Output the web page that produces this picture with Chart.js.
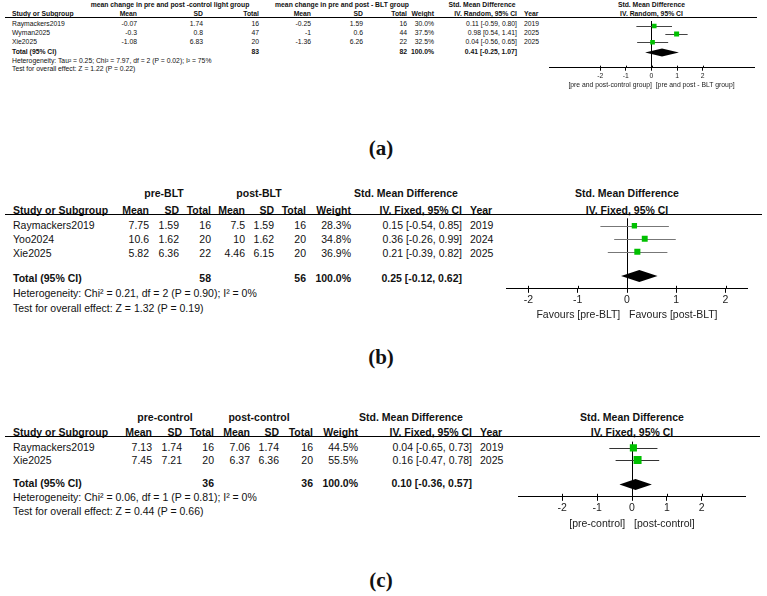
<!DOCTYPE html>
<html lang="en">
<head>
<meta charset="UTF-8">
<title>Forest plots</title>
<script src="https://cdn.jsdelivr.net/npm/chart.js"></script>
<style>
  body { margin: 0; background: #fff; }
  #page { position: relative; width: 767px; height: 596px; overflow: hidden; font-family: "Liberation Sans", Arial, sans-serif; color: #111; }
  .t { position: absolute; white-space: pre; line-height: 1; }
  .b { font-weight: bold; }
  .rule { position: absolute; height: 1px; background: #000; }
  canvas { position: absolute; }
  .lab { position: absolute; font-family: "Liberation Serif", "Times New Roman", serif; font-weight: bold; font-size: 21px; line-height: 1; transform: translate(-50%, -50%); }
</style>
</head>
<body>
<div id="page"></div>
<script>
// (a) change scores, control light vs BLT, random effects
const studiesA = ['Raymackers2019', 'Wyman2025', 'Xie2025'];
const ctrlMeanA = [-0.07, -0.3, -1.08];
const ctrlSdA = [1.74, 0.8, 6.83];
const ctrlNA = [16, 47, 20];
const bltMeanA = [-0.25, -1, -1.36];
const bltSdA = [1.59, 0.6, 6.26];
const bltNA = [16, 44, 22];
const weightA = [30.0, 37.5, 32.5];
const smdA = [0.11, 0.98, 0.04];
const lowA = [-0.59, 0.54, -0.56];
const highA = [0.80, 1.41, 0.65];
const yearA = [2019, 2025, 2025];
const pooledA = [0.41, -0.25, 1.07];

// (b) pre vs post BLT
const studiesB = ['Raymackers2019', 'Yoo2024', 'Xie2025'];
const preMeanB = [7.75, 10.6, 5.82];
const preSdB = [1.59, 1.62, 6.36];
const preNB = [16, 20, 22];
const postMeanB = [7.5, 10, 4.46];
const postSdB = [1.59, 1.62, 6.15];
const postNB = [16, 20, 20];
const weightB = [28.3, 34.8, 36.9];
const smdB = [0.15, 0.36, 0.21];
const lowB = [-0.54, -0.26, -0.39];
const highB = [0.85, 0.99, 0.82];
const yearB = [2019, 2024, 2025];
const pooledB = [0.25, -0.12, 0.62];

// (c) pre vs post control
const studiesC = ['Raymackers2019', 'Xie2025'];
const preMeanC = [7.13, 7.45];
const preSdC = [1.74, 7.21];
const preNC = [16, 20];
const postMeanC = [7.06, 6.37];
const postSdC = [1.74, 6.36];
const postNC = [16, 20];
const weightC = [44.5, 55.5];
const smdC = [0.04, 0.16];
const lowC = [-0.65, -0.47];
const highC = [0.73, 0.78];
const yearC = [2019, 2025];
const pooledC = [0.10, -0.36, 0.57];

const axisTicks = [-2, -1, 0, 1, 2];

const page = document.getElementById('page');
const FONT = '"Liberation Sans", Arial, sans-serif';

function txt(str, x, y, size, opts) {
  opts = opts || {};
  const s = document.createElement('span');
  s.className = 't' + (opts.bold ? ' b' : '');
  s.textContent = str;
  s.style.left = x + 'px';
  s.style.top = y + 'px';
  s.style.fontSize = size + 'px';
  const dx = opts.align === 'right' ? '-100%' : opts.align === 'center' ? '-50%' : '0';
  s.style.transform = 'translate(' + dx + ',-50%)';
  page.appendChild(s);
}

const sum = a => a.reduce((s, v) => s + v, 0);
const ci = (e, l, h) => e.toFixed(2) + ' [' + l.toFixed(2) + ', ' + h.toFixed(2) + ']';

function table(p) {
  const f = p.fs, c = p.cols;
  const mid = p.plotX + p.plotW / 2;
  p.groups.forEach(g => txt(g[0], g[1], p.head1Y, f, { bold: true, align: 'center' }));
  txt('Std. Mean Difference', mid, p.head1Y, f, { bold: true, align: 'center' });
  txt('Study or Subgroup', c.study, p.head2Y, f, { bold: true });
  [['Mean', c.m1], ['SD', c.s1], ['Total', c.n1], ['Mean', c.m2], ['SD', c.s2], ['Total', c.n2],
   ['Weight', c.w], [p.ciHead, c.ci]].forEach(h => txt(h[0], h[1], p.head2Y, f, { bold: true, align: 'right' }));
  txt('Year', c.yr, p.head2Y, f, { bold: true });
  txt(p.ciHead, mid, p.head2Y, f, { bold: true, align: 'center' });

  const r = document.createElement('div');
  r.className = 'rule';
  r.style.left = p.ruleX0 + 'px';
  r.style.width = (p.ruleX1 - p.ruleX0) + 'px';
  r.style.top = p.ruleY + 'px';
  page.appendChild(r);

  p.study.forEach((name, i) => {
    const y = p.rowY + i * p.rowStep;
    txt(name, c.study, y, f);
    txt(String(p.m1[i]), c.m1, y, f, { align: 'right' });
    txt(String(p.s1[i]), c.s1, y, f, { align: 'right' });
    txt(String(p.n1[i]), c.n1, y, f, { align: 'right' });
    txt(String(p.m2[i]), c.m2, y, f, { align: 'right' });
    txt(String(p.s2[i]), c.s2, y, f, { align: 'right' });
    txt(String(p.n2[i]), c.n2, y, f, { align: 'right' });
    txt(p.weight[i].toFixed(1) + '%', c.w, y, f, { align: 'right' });
    txt(ci(p.smd[i], p.lo[i], p.hi[i]), c.ci, y, f, { align: 'right' });
    txt(String(p.year[i]), c.yr, y, f);
  });
  txt('Total (95% CI)', c.study, p.totalY, f, { bold: true });
  txt(String(sum(p.n1)), c.n1, p.totalY, f, { bold: true, align: 'right' });
  txt(String(sum(p.n2)), c.n2, p.totalY, f, { bold: true, align: 'right' });
  txt('100.0%', c.w, p.totalY, f, { bold: true, align: 'right' });
  txt(ci(p.pooled[0], p.pooled[1], p.pooled[2]), c.ci, p.totalY, f, { bold: true, align: 'right' });
  txt(p.het, c.study, p.hetY, f);
  txt(p.test, c.study, p.testY, f);

  const lab = document.createElement('div');
  lab.className = 'lab';
  lab.textContent = p.label[0];
  lab.style.left = '381px';
  lab.style.top = p.label[1] + 'px';
  page.appendChild(lab);
}

const forestMarks = {
  id: 'forestMarks',
  beforeDatasetsDraw(chart) {
    const p = chart.options.plugins.forestMarks;
    const { ctx } = chart;
    const xs = chart.scales.x, ys = chart.scales.y;
    ctx.save();
    ctx.strokeStyle = p.ciColor;
    ctx.lineWidth = 1;
    p.smd.forEach((v, i) => {
      const y = Math.round(ys.getPixelForValue(i + p.markOff)) + 0.5;
      ctx.beginPath();
      ctx.moveTo(xs.getPixelForValue(p.lo[i]), y);
      ctx.lineTo(xs.getPixelForValue(p.hi[i]), y);
      ctx.stroke();
    });
    ctx.restore();
  },
  afterDraw(chart) {
    const p = chart.options.plugins.forestMarks;
    const { ctx, chartArea } = chart;
    const xs = chart.scales.x, ys = chart.scales.y;
    ctx.save();
    // pooled diamond
    const yd = ys.getPixelForValue(p.totalRow);
    ctx.fillStyle = '#000';
    ctx.beginPath();
    ctx.moveTo(xs.getPixelForValue(p.pooled[1]), yd);
    ctx.lineTo(xs.getPixelForValue(p.pooled[0]), yd - p.diamondH);
    ctx.lineTo(xs.getPixelForValue(p.pooled[2]), yd);
    ctx.lineTo(xs.getPixelForValue(p.pooled[0]), yd + p.diamondH);
    ctx.closePath();
    ctx.fill();
    // tick marks crossing the axis
    ctx.strokeStyle = '#000';
    ctx.lineWidth = 1;
    xs.ticks.forEach(t => {
      const x = Math.round(xs.getPixelForValue(t.value)) + 0.5;
      ctx.beginPath();
      ctx.moveTo(x, chartArea.bottom - p.tickLen + 1);
      ctx.lineTo(x, chartArea.bottom);
      ctx.stroke();
    });
    ctx.restore();
  }
};

function forest(p) {
  const lh = p.fs * 1.2;
  const axisH = p.tickLen + 1 + lh + p.titlePad + lh;
  const cv = document.createElement('canvas');
  cv.width = p.plotW;
  cv.height = Math.round(p.axisY - p.ruleY + axisH);
  cv.style.left = p.plotX + 'px';
  cv.style.top = p.ruleY + 'px';
  page.appendChild(cv);

  const yTop = (p.ruleY - p.rowY) / p.rowStep;
  const yBot = yTop + (cv.height - axisH) / p.rowStep;
  const totalRow = (p.totalY + p.diamondOff - p.rowY) / p.rowStep;
  const markOff = p.markPx / p.rowStep;

  new Chart(cv, {
    type: 'scatter',
    data: {
      datasets: [{
        data: p.smd.map((v, i) => ({ x: v, y: i + markOff })),
        pointStyle: 'rect',
        pointRadius: p.weight.map(w => p.sq * Math.sqrt(w) / Math.SQRT2),
        backgroundColor: '#00c000',
        borderWidth: 0
      }]
    },
    options: {
      responsive: false,
      animation: false,
      events: [],
      layout: { padding: 0 },
      plugins: {
        legend: { display: false },
        tooltip: { enabled: false },
        forestMarks: {
          smd: p.smd, lo: p.lo, hi: p.hi, pooled: p.pooled, ciColor: p.ciColor,
          markOff: markOff, totalRow: totalRow, diamondH: p.diamondH, tickLen: p.tickLen
        }
      },
      scales: {
        x: {
          type: 'linear',
          min: -p.xr,
          max: p.xr,
          afterBuildTicks: ax => { ax.ticks = axisTicks.map(v => ({ value: v })); },
          grid: {
            color: c => (c.tick && c.tick.value === 0) ? '#000' : 'rgba(0,0,0,0)',
            tickColor: '#000',
            tickLength: p.tickLen,
            lineWidth: 1
          },
          border: { color: '#000', width: 1 },
          ticks: { font: { size: p.fs, family: FONT }, color: '#222', padding: 1, maxRotation: 0, autoSkip: false },
          title: {
            display: true,
            text: p.favL + p.gap + p.favR,
            font: { size: p.fs, family: FONT },
            color: '#222',
            padding: { top: p.titlePad, bottom: 0 }
          }
        },
        y: { type: 'linear', reverse: true, min: yTop, max: yBot, display: false }
      }
    },
    plugins: [forestMarks]
  });
}

const panels = [
  {
    study: studiesA, m1: ctrlMeanA, s1: ctrlSdA, n1: ctrlNA, m2: bltMeanA, s2: bltSdA, n2: bltNA,
    weight: weightA, smd: smdA, lo: lowA, hi: highA, year: yearA, pooled: pooledA,
    het: 'Heterogeneity: Tau\u00b2 = 0.25; Chi\u00b2 = 7.97, df = 2 (P = 0.02); I\u00b2 = 75%',
    test: 'Test for overall effect: Z = 1.22 (P = 0.22)',
    groups: [['mean change in pre and post -control light group', 170], ['mean change in pre and post - BLT group', 342], ['Std. Mean Difference', 482]],
    ciHead: 'IV. Random, 95% CI',
    favL: '[pre and post-control group]', favR: '[pre and post - BLT group]', gap: '  ',
    label: ['(a)', 148],
    fs: 6.8, head1Y: 5, head2Y: 14, ruleY: 17, ruleX0: 5, ruleX1: 757,
    rowY: 23.5, rowStep: 9, totalY: 52, hetY: 60.5, testY: 68.5,
    cols: { study: 12, m1: 137, s1: 203, n1: 259, m2: 311, s2: 363, n2: 407, w: 434, ci: 517, yr: 524 },
    plotX: 545, plotW: 213, xr: 4, axisY: 69, tickLen: 3, titlePad: 0,
    sq: 0.82, diamondH: 4, diamondOff: 0, markPx: -1, ciColor: '#444'
  },
  {
    study: studiesB, m1: preMeanB, s1: preSdB, n1: preNB, m2: postMeanB, s2: postSdB, n2: postNB,
    weight: weightB, smd: smdB, lo: lowB, hi: highB, year: yearB, pooled: pooledB,
    het: 'Heterogeneity: Chi\u00b2 = 0.21, df = 2 (P = 0.90); I\u00b2 = 0%',
    test: 'Test for overall effect: Z = 1.32 (P = 0.19)',
    groups: [['pre-BLT', 164], ['post-BLT', 259], ['Std. Mean Difference', 406]],
    ciHead: 'IV. Fixed, 95% CI',
    favL: 'Favours [pre-BLT]', favR: 'Favours [post-BLT]', gap: '   ',
    label: ['(b)', 357],
    fs: 10.5, head1Y: 193, head2Y: 209.5, ruleY: 214, ruleX0: 5, ruleX1: 762,
    rowY: 225, rowStep: 14, totalY: 278, hetY: 293, testY: 308,
    cols: { study: 13, m1: 149, s1: 179, n1: 211, m2: 245, s2: 274, n2: 306, w: 351, ci: 462, yr: 470 },
    plotX: 502, plotW: 250, xr: 2.45, axisY: 289.5, tickLen: 4, titlePad: 1,
    sq: 1.0, diamondH: 6, diamondOff: -2, markPx: -3, ciColor: '#777'
  },
  {
    study: studiesC, m1: preMeanC, s1: preSdC, n1: preNC, m2: postMeanC, s2: postSdC, n2: postNC,
    weight: weightC, smd: smdC, lo: lowC, hi: highC, year: yearC, pooled: pooledC,
    het: 'Heterogeneity: Chi\u00b2 = 0.06, df = 1 (P = 0.81); I\u00b2 = 0%',
    test: 'Test for overall effect: Z = 0.44 (P = 0.66)',
    groups: [['pre-control', 165], ['post-control', 259], ['Std. Mean Difference', 411]],
    ciHead: 'IV. Fixed, 95% CI',
    favL: '[pre-control]', favR: '[post-control]', gap: '   ',
    label: ['(c)', 580],
    fs: 10.5, head1Y: 417, head2Y: 431.5, ruleY: 436, ruleX0: 5, ruleX1: 760,
    rowY: 446.5, rowStep: 13.5, totalY: 483, hetY: 497, testY: 511,
    cols: { study: 13, m1: 152, s1: 182, n1: 214, m2: 250, s2: 279, n2: 313, w: 358, ci: 472, yr: 480 },
    plotX: 513, plotW: 238, xr: 3.25, axisY: 497.5, tickLen: 4, titlePad: 2,
    sq: 1.07, diamondH: 5.5, diamondOff: 1, markPx: -3.5, ciColor: '#333'
  }
];

panels.forEach(p => { table(p); forest(p); });
</script>
</body>
</html>
